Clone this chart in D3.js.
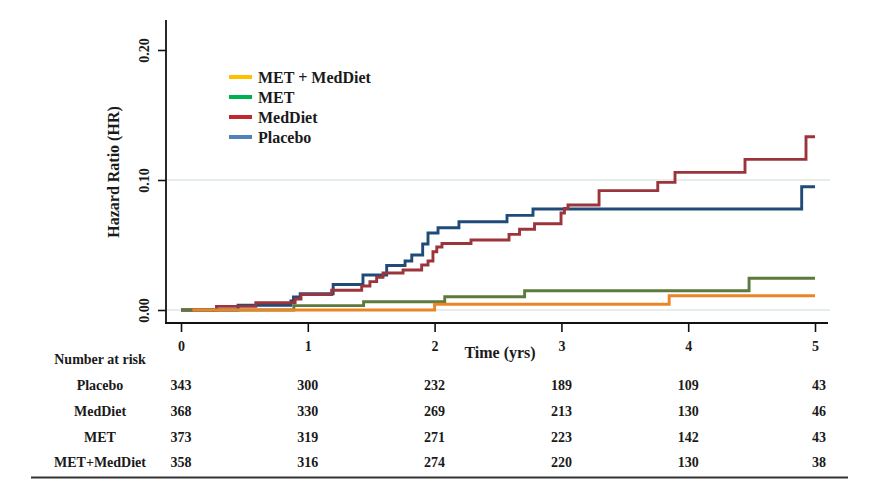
<!DOCTYPE html>
<html><head><meta charset="utf-8">
<script src="https://cdn.jsdelivr.net/npm/d3@7/dist/d3.min.js"></script>
<style>body{margin:0;background:#fff}text{font-family:"Liberation Serif","Times New Roman",serif;font-weight:bold;fill:#1a1a1a}</style>
</head><body><svg id="c" width="869" height="480"></svg>
<script>
// ---- data ----
const xTicks = [0,1,2,3,4,5];
const yTicks = [0.00,0.10,0.20];
const seriesNames = ["Placebo","MedDiet","MET","MET+MedDiet"];
const legendNames = ["MET + MedDiet","MET","MedDiet","Placebo"];
const legendColors = ["#ffc000","#00b050","#c0282d","#4f81bd"];

const placeboT = [0,0.45,0.867,0.887,0.94,1.20,1.435,1.622,1.767,1.82,1.906,1.948,2.027,2.192,2.571,2.776,4.895,5];
const placeboV = [0,0.0037,0.0069,0.0100,0.0125,0.0196,0.0269,0.0342,0.0377,0.0423,0.0508,0.0592,0.0633,0.0679,0.0728,0.0777,0.0948,0.0948];
const medDietT = [0,0.28,0.59,0.90,0.946,1.188,1.425,1.49,1.543,1.593,1.751,1.898,1.948,1.987,2.017,2.058,2.287,2.587,2.67,2.788,2.997,3.024,3.052,3.297,3.76,3.896,4.448,4.929,5];
const medDietV = [0,0.0028,0.0056,0.0085,0.0119,0.0152,0.0185,0.0218,0.0252,0.0285,0.0308,0.0346,0.0377,0.0448,0.0485,0.0512,0.0538,0.0582,0.0621,0.0664,0.0746,0.0782,0.0808,0.0918,0.0982,0.1059,0.1159,0.1333,0.1333];
const metT = [0,0.89,1.44,2.08,2.71,4.48,5];
const metV = [0,0.0034,0.0064,0.0102,0.0148,0.0244,0.0244];
const comboT = [0.09,2.0,3.85,5];
const comboV = [0,0.0044,0.0110,0.0110];
const lineColors = ["#1f4b78","#9b353b","#5b7a3b","#ea8427"];

const atRisk = [
  [343,300,232,189,109,43],
  [368,330,269,213,130,46],
  [373,319,271,223,142,43],
  [358,316,274,220,130,38]
];

// ---- chart ----
const svg = d3.select("#c");
const x = d3.scaleLinear().domain([0,5]).range([181,815]);
const y = d3.scaleLinear().domain([0,0.2]).range([310,50]);

// gridlines
svg.append("g").selectAll("line").data([0,0.10]).join("line")
  .attr("x1",167).attr("x2",830).attr("y1",d=>y(d)).attr("y2",d=>y(d))
  .attr("stroke","#e6eeeb").attr("stroke-width",2);

// series
const series = [
  {t:placeboT,v:placeboV,c:lineColors[0]},
  {t:medDietT,v:medDietV,c:lineColors[1]},
  {t:metT,v:metV,c:lineColors[2]},
  {t:comboT,v:comboV,c:lineColors[3]}
];
const line = d3.line().x(d=>x(d[0])).y(d=>y(d[1])).curve(d3.curveStepAfter);
series.forEach(s=>{
  svg.append("path").datum(s.t.map((t,i)=>[t,s.v[i]]))
    .attr("d",line).attr("fill","none").attr("stroke",s.c).attr("stroke-width",2.9);
});

// axes
const yAxis = svg.append("g").attr("transform","translate(166,0)")
  .call(d3.axisLeft(y).tickValues(yTicks).tickSize(8).tickSizeOuter(0).tickFormat(d3.format(".2f")));
yAxis.attr("font-size",14).attr("font-family","Liberation Serif, serif");
yAxis.select(".domain").remove();
yAxis.selectAll(".tick line").attr("stroke","#111").attr("stroke-width",1.6);
yAxis.selectAll(".tick text").attr("transform","rotate(-90)").attr("x",0).attr("y",-17)
  .attr("dy",0).attr("text-anchor","middle").attr("font-size",14).style("font-size","14px")
  .style("font-weight","bold").attr("fill","#1a1a1a");
svg.append("line").attr("x1",166).attr("x2",166).attr("y1",20).attr("y2",324).attr("stroke","#111").attr("stroke-width",1.8);

const xAxis = svg.append("g").attr("transform","translate(0,323)")
  .call(d3.axisBottom(x).tickValues(xTicks).tickSize(9).tickSizeOuter(0).tickFormat(d3.format("d")));
xAxis.attr("font-size",14).attr("font-family","Liberation Serif, serif");
xAxis.select(".domain").remove();
xAxis.selectAll(".tick line").attr("stroke","#111").attr("stroke-width",1.6);
xAxis.selectAll(".tick text").attr("y",28).attr("dy",0).attr("font-size",14).style("font-size","14px")
  .style("font-weight","bold").attr("fill","#1a1a1a");
svg.append("line").attr("x1",165).attr("x2",828).attr("y1",323).attr("y2",323).attr("stroke","#111").attr("stroke-width",1.8);

// titles
svg.append("text").attr("transform","translate(119,172) rotate(-90)").attr("text-anchor","middle")
  .style("font-size","16px").text("Hazard Ratio (HR)");
svg.append("text").attr("x",500).attr("y",358).attr("text-anchor","middle")
  .style("font-size","16px").text("Time (yrs)");

// legend
const lg = svg.append("g");
legendNames.forEach((n,i)=>{
  const yy = 77 + i*20;
  lg.append("line").attr("x1",229).attr("x2",252).attr("y1",yy).attr("y2",yy)
    .attr("stroke",legendColors[i]).attr("stroke-width",4);
  lg.append("text").attr("x",258).attr("y",yy+5.5).style("font-size","16px").text(n);
});

// number at risk table
svg.append("text").attr("x",100).attr("y",364).attr("text-anchor","middle")
  .style("font-size","14px").text("Number at risk");
const rowY = [390,416,441.5,466.5];
seriesNames.forEach((n,i)=>{
  svg.append("text").attr("x",100).attr("y",rowY[i]).attr("text-anchor","middle")
    .style("font-size","14px").text(n);
  atRisk[i].forEach((v,j)=>{
    svg.append("text").attr("x",x(xTicks[j])+ (j===5?4:0)).attr("y",rowY[i]).attr("text-anchor","middle")
      .style("font-size","14px").text(v);
  });
});
svg.append("line").attr("x1",31).attr("x2",848).attr("y1",477.5).attr("y2",477.5)
  .attr("stroke","#333").attr("stroke-width",2);
</script></body></html>
